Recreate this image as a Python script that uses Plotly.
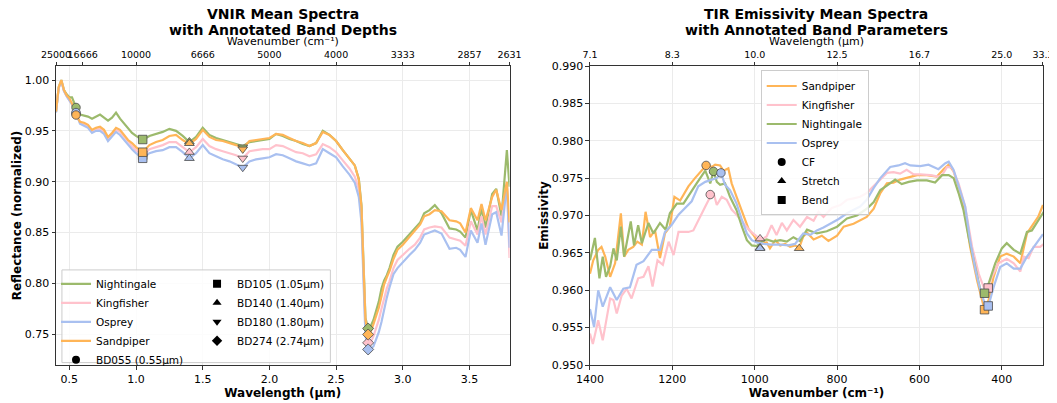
import plotly.graph_objects as go

FONT = "DejaVu Sans"

# ---------------- VNIR data ----------------
wavelength_um = [0.40, 0.42, 0.44, 0.46, 0.48, 0.50, 0.52, 0.55, 0.58, 0.61, 0.64, 0.67, 0.70, 0.73,
                 0.76, 0.79, 0.82, 0.85, 0.88, 0.91, 0.94, 0.97, 1.00, 1.05, 1.10, 1.15, 1.20, 1.25,
                 1.30, 1.35, 1.40, 1.45, 1.50, 1.55, 1.60, 1.65, 1.70, 1.75, 1.80, 1.85, 1.90, 1.95,
                 2.00, 2.05, 2.10, 2.15, 2.20, 2.25, 2.30, 2.35, 2.40, 2.45, 2.50, 2.55, 2.60, 2.64,
                 2.67, 2.69, 2.70, 2.72, 2.74, 2.76, 2.78, 2.80, 2.82, 2.84, 2.86, 2.88, 2.90, 2.93,
                 2.96, 3.00, 3.05, 3.09, 3.13, 3.16, 3.20, 3.24, 3.29, 3.35, 3.40, 3.43, 3.47, 3.51,
                 3.56, 3.59, 3.62, 3.67, 3.70, 3.74, 3.78, 3.80]

vnir_nightingale = [0.969, 0.993, 1.000, 0.990, 0.986, 0.983, 0.983, 0.973, 0.966, 0.965, 0.964, 0.962,
                    0.964, 0.966, 0.963, 0.960, 0.963, 0.968, 0.962, 0.957, 0.952, 0.948, 0.945, 0.941,
                    0.945, 0.947, 0.949, 0.952, 0.950, 0.945, 0.939, 0.944, 0.953, 0.946, 0.943, 0.941,
                    0.939, 0.937, 0.935, 0.939, 0.940, 0.941,
                    0.942, 0.947, 0.945, 0.942, 0.940, 0.937, 0.935, 0.938, 0.950, 0.946, 0.940, 0.931,
                    0.923, 0.916, 0.903, 0.877, 0.840, 0.766, 0.7556, 0.758, 0.764, 0.772, 0.782, 0.795,
                    0.803, 0.808, 0.815, 0.828, 0.836, 0.841, 0.848, 0.854, 0.860, 0.869, 0.872, 0.877,
                    0.869, 0.854, 0.853, 0.851, 0.845, 0.872, 0.852, 0.874, 0.855, 0.888, 0.893, 0.866,
                    0.931, 0.895]
vnir_kingfisher = [0.969, 0.992, 0.999, 0.989, 0.984, 0.980, 0.976, 0.967, 0.958, 0.956, 0.954, 0.949,
                   0.951, 0.952, 0.949, 0.942, 0.946, 0.951, 0.949, 0.944, 0.939, 0.935, 0.931, 0.926,
                   0.932, 0.934, 0.936, 0.939, 0.939, 0.934, 0.929, 0.934, 0.942, 0.935, 0.932, 0.930,
                   0.928, 0.926, 0.923, 0.930, 0.931, 0.932,
                   0.932, 0.936, 0.935, 0.932, 0.929, 0.928, 0.925, 0.927, 0.937, 0.934, 0.929, 0.921,
                   0.913, 0.905, 0.893, 0.868, 0.830, 0.756, 0.7415, 0.742, 0.748, 0.755, 0.764, 0.775,
                   0.786, 0.795, 0.802, 0.815, 0.823, 0.828, 0.834, 0.838, 0.845, 0.853, 0.855, 0.856,
                   0.855, 0.845, 0.843, 0.842, 0.837, 0.861, 0.848, 0.866, 0.848, 0.876, 0.876, 0.860,
                   0.899, 0.825]
vnir_osprey = [0.968, 0.992, 0.999, 0.989, 0.984, 0.980, 0.976, 0.968, 0.957, 0.955, 0.953, 0.948,
               0.950, 0.950, 0.947, 0.940, 0.944, 0.949, 0.946, 0.941, 0.936, 0.932, 0.928, 0.923,
               0.928, 0.930, 0.931, 0.934, 0.934, 0.929, 0.923, 0.928, 0.936, 0.928, 0.925, 0.922,
               0.920, 0.917, 0.914, 0.920, 0.922, 0.923,
               0.924, 0.927, 0.926, 0.923, 0.920, 0.918, 0.916, 0.918, 0.932, 0.928, 0.924, 0.915,
               0.907, 0.899, 0.885, 0.860, 0.822, 0.748, 0.737, 0.736, 0.738, 0.745, 0.752, 0.762,
               0.775, 0.786, 0.796, 0.809, 0.815, 0.821, 0.828, 0.833, 0.840, 0.848, 0.850, 0.852,
               0.849, 0.834, 0.835, 0.833, 0.826, 0.852, 0.840, 0.859, 0.838, 0.868, 0.870, 0.847,
               0.898, 0.835]
vnir_sandpiper = [0.969, 0.993, 1.000, 0.990, 0.985, 0.982, 0.977, 0.966, 0.959, 0.958, 0.956, 0.951,
                  0.953, 0.954, 0.951, 0.944, 0.948, 0.953, 0.951, 0.946, 0.941, 0.938, 0.934, 0.929,
                  0.936, 0.939, 0.941, 0.945, 0.946, 0.941, 0.937, 0.942, 0.951, 0.944, 0.941, 0.940,
                  0.938, 0.936, 0.933, 0.940, 0.941, 0.942,
                  0.943, 0.947, 0.946, 0.943, 0.940, 0.938, 0.935, 0.938, 0.949, 0.946, 0.940, 0.931,
                  0.923, 0.916, 0.902, 0.875, 0.836, 0.764, 0.750, 0.753, 0.760, 0.767, 0.776, 0.787,
                  0.799, 0.806, 0.812, 0.824, 0.833, 0.838, 0.846, 0.852, 0.858, 0.866, 0.868, 0.872,
                  0.871, 0.862, 0.861, 0.859, 0.850, 0.874, 0.862, 0.878, 0.862, 0.885, 0.892, 0.872,
                  0.900, 0.860]

band_names = ["BD055 (0.55µm)", "BD105 (1.05µm)", "BD140 (1.40µm)", "BD180 (1.80µm)", "BD274 (2.74µm)"]
band_wl = [0.55, 1.05, 1.40, 1.80, 2.74]
band_symbols = ["circle", "square", "triangle-up", "triangle-down", "diamond"]
bd_nightingale = [0.973, 0.9415, 0.9393, 0.934, 0.7556]
bd_kingfisher = [0.967, 0.926, 0.929, 0.923, 0.7415]
bd_osprey = [0.968, 0.923, 0.923, 0.914, 0.735]
bd_sandpiper = [0.9656, 0.929, 0.9377, 0.932, 0.7497]

top_wl_ticks = [0.4, 0.6, 1.0, 1.5, 2.0, 2.5, 3.0, 3.5, 3.8]
top_wn_labels = ["25000", "16666", "10000", "6666", "5000", "4000", "3333", "2857", "2631"]

# ---------------- TIR data ----------------
tir_sandpiper_wn = [1400, 1392, 1380, 1372, 1363, 1351, 1339, 1325, 1317, 1307, 1295, 1285, 1274, 1265,
                    1254, 1242, 1230, 1218, 1206, 1195, 1181, 1161, 1145, 1129, 1118, 1104, 1096, 1084,
                    1076, 1064, 1056, 1044, 1027, 1015, 1003, 995, 983, 971, 963, 950, 938, 926, 914,
                    902, 892, 882, 873, 857, 837, 821, 800, 784, 760, 744, 728, 711, 695, 679, 663, 647,
                    631, 606, 582, 558, 541, 529, 517, 501, 489, 477, 460, 448, 442, 432, 420, 404, 388,
                    371, 355, 339, 323, 311, 300]
tir_sandpiper = [0.9622, 0.9640, 0.9654, 0.9658, 0.9645, 0.9618, 0.9636, 0.9703, 0.9645, 0.9654, 0.9658,
                 0.9665, 0.9661, 0.9705, 0.9671, 0.9680, 0.9643, 0.9676, 0.9685, 0.9725, 0.9720, 0.9739,
                 0.9750, 0.9761, 0.9767, 0.9765, 0.9768, 0.9767, 0.9760, 0.9763, 0.9743, 0.9725, 0.9699,
                 0.9682, 0.9674, 0.9667, 0.9662, 0.9664, 0.9656, 0.9667, 0.9660, 0.9662, 0.9658, 0.9660,
                 0.9657, 0.9672, 0.9677, 0.9668, 0.9673, 0.9666, 0.9673, 0.9685, 0.9689, 0.9694, 0.9698,
                 0.9709, 0.9730, 0.9743, 0.9744, 0.9748, 0.9750, 0.9754, 0.9754, 0.9752, 0.9762, 0.9768,
                 0.9759, 0.9732, 0.9703, 0.9658, 0.9613, 0.9587, 0.9574, 0.9587, 0.9618, 0.9645, 0.9649,
                 0.9645, 0.9636, 0.9676, 0.9690, 0.9699, 0.9714]

tir_kingfisher_wn = [1400, 1393, 1380, 1369, 1351, 1343, 1335, 1323, 1311, 1299, 1283, 1270, 1258, 1248,
                     1236, 1223, 1209, 1197, 1185, 1161, 1149, 1137, 1120, 1108, 1100, 1092, 1080, 1068,
                     1056, 1044, 1027, 1011, 995, 983, 971, 959, 947, 934, 922, 906, 890, 873, 857, 845,
                     833, 813, 792, 776, 760, 744, 728, 711, 695, 679, 663, 647, 631, 614, 598, 574, 554,
                     545, 533, 521, 505, 489, 472, 456, 444, 436, 424, 408, 388, 371, 355, 347, 335, 323,
                     307, 298]
tir_kingfisher = [0.9542, 0.9528, 0.9560, 0.9533, 0.9589, 0.9587, 0.9569, 0.9593, 0.9602, 0.9589, 0.9616,
                  0.9618, 0.9632, 0.9605, 0.9640, 0.9634, 0.9665, 0.9647, 0.9678, 0.9678, 0.9680, 0.9694,
                  0.9712, 0.9725, 0.9730, 0.9714, 0.9725, 0.9721, 0.9708, 0.9701, 0.9690, 0.9679, 0.9672,
                  0.9668, 0.9672, 0.9687, 0.9674, 0.9690, 0.9680, 0.9694, 0.9685, 0.9698, 0.9693, 0.9705,
                  0.9698, 0.9710, 0.9714, 0.9721, 0.9723, 0.9725, 0.9730, 0.9739, 0.9748, 0.9757, 0.9758,
                  0.9756, 0.9761, 0.9755, 0.9755, 0.9754, 0.9752, 0.9754, 0.9765, 0.9764, 0.9743, 0.9712,
                  0.9658, 0.9622, 0.9604, 0.9602, 0.9618, 0.9636, 0.9642, 0.9636, 0.9625, 0.9645, 0.9643,
                  0.9658, 0.9658, 0.9662]

tir_nightingale_wn = [1400, 1388, 1377, 1369, 1361, 1351, 1343, 1335, 1325, 1317, 1301, 1293, 1283, 1274,
                      1258, 1246, 1230, 1216, 1206, 1189, 1173, 1157, 1141, 1120, 1108, 1100, 1092, 1084,
                      1072, 1060, 1044, 1031, 1019, 1007, 995, 983, 971, 955, 938, 922, 906, 890, 873, 849,
                      825, 800, 776, 752, 728, 711, 695, 679, 659, 643, 626, 606, 582, 562, 545, 529, 517,
                      505, 493, 481, 464, 452, 442, 432, 416, 400, 388, 371, 355, 339, 327, 311, 298]
tir_nightingale = [0.9640, 0.9670, 0.9616, 0.9645, 0.9618, 0.9632, 0.9656, 0.9640, 0.9685, 0.9645, 0.9692,
                   0.9660, 0.9687, 0.9663, 0.9690, 0.9676, 0.9690, 0.9681, 0.9703, 0.9716, 0.9716, 0.9730,
                   0.9743, 0.9760, 0.9743, 0.9759, 0.9745, 0.9741, 0.9743, 0.9725, 0.9707, 0.9685, 0.9667,
                   0.9660, 0.9659, 0.9665, 0.9668, 0.9665, 0.9667, 0.9665, 0.9671, 0.9666, 0.9681, 0.9676,
                   0.9679, 0.9685, 0.9696, 0.9700, 0.9709, 0.9718, 0.9734, 0.9740, 0.9748, 0.9742, 0.9745,
                   0.9747, 0.9747, 0.9744, 0.9754, 0.9754, 0.9750, 0.9730, 0.9707, 0.9672, 0.9631, 0.9600,
                   0.9596, 0.9609, 0.9636, 0.9656, 0.9663, 0.9654, 0.9649, 0.9678, 0.9680, 0.9694, 0.9705]

tir_osprey_wn = [1400, 1390, 1380, 1369, 1351, 1335, 1319, 1303, 1287, 1270, 1250, 1230, 1218, 1201,
                 1185, 1169, 1153, 1137, 1120, 1104, 1092, 1082, 1072, 1060, 1044, 1031, 1019, 1007, 995,
                 979, 959, 938, 918, 902, 882, 865, 849, 833, 817, 797, 776, 760, 744, 728, 711, 695, 671,
                 651, 635, 622, 598, 578, 554, 537, 529, 517, 501, 489, 477, 464, 452, 440, 432, 420, 404,
                 388, 371, 355, 339, 323, 311, 300]
tir_osprey = [0.9575, 0.9551, 0.9600, 0.9578, 0.9604, 0.9587, 0.9602, 0.9604, 0.9634, 0.9639, 0.9654,
              0.9654, 0.9678, 0.9688, 0.9701, 0.9710, 0.9719, 0.9739, 0.9745, 0.9748, 0.9750, 0.9757,
              0.9741, 0.9734, 0.9716, 0.9694, 0.9676, 0.9667, 0.9664, 0.9662, 0.9661, 0.9661, 0.9660,
              0.9662, 0.9676, 0.9674, 0.9680, 0.9684, 0.9689, 0.9695, 0.9703, 0.9707, 0.9712, 0.9721,
              0.9737, 0.9750, 0.9765, 0.9767, 0.9770, 0.9767, 0.9766, 0.9768, 0.9762, 0.9770, 0.9772,
              0.9761, 0.9734, 0.9712, 0.9667, 0.9627, 0.9600, 0.9580, 0.9580, 0.9604, 0.9631, 0.9636,
              0.9629, 0.9629, 0.9645, 0.9658, 0.9667, 0.9675]

# band parameters: (wavenumber, emissivity) for CF, Stretch, Bend
param_names = ["CF", "Stretch", "Bend"]
param_symbols = ["circle", "triangle-up", "square"]
par_sandpiper_wn = [1118, 892, 442]
par_sandpiper = [0.9767, 0.9656, 0.9574]
par_kingfisher_wn = [1108, 987, 433]
par_kingfisher = [0.9728, 0.9669, 0.9603]
par_nightingale_wn = [1100, 987, 442]
par_nightingale = [0.9759, 0.9657, 0.9596]
par_osprey_wn = [1082, 987, 433]
par_osprey = [0.9757, 0.9656, 0.9579]

top_wn_ticks = [1400, 1200, 1000, 800, 600, 400, 300]
top_wl_labels = ["7.1", "8.3", "10.0", "12.5", "16.7", "25.0", "33.3"]

COLORS = {
    "Nightingale": "#9cba6c",
    "Kingfisher": "#ffc2cc",
    "Osprey": "#a9c0f0",
    "Sandpiper": "#ffb557",
}
EDGE = "#4a4a4a"

fig = go.Figure()

# ---- left: lines ----
vnir = [("Nightingale", vnir_nightingale, bd_nightingale),
        ("Kingfisher", vnir_kingfisher, bd_kingfisher),
        ("Osprey", vnir_osprey, bd_osprey),
        ("Sandpiper", vnir_sandpiper, bd_sandpiper)]
for name, vals, _ in vnir:
    fig.add_trace(go.Scatter(x=wavelength_um, y=vals, mode="lines", name=name,
                             line=dict(color=COLORS[name], width=2.2),
                             xaxis="x", yaxis="y", legend="legend"))
for name, _, bd in vnir:
    fig.add_trace(go.Scatter(x=band_wl, y=bd, mode="markers", showlegend=False,
                             marker=dict(color=COLORS[name], size=8.5, symbol=band_symbols,
                                         line=dict(color=EDGE, width=0.8)),
                             xaxis="x", yaxis="y"))
for i, (bn, sym) in enumerate(zip(band_names, band_symbols)):
    fig.add_trace(go.Scatter(x=[None], y=[None], mode="markers", name=bn,
                             marker=dict(color="black", size=8, symbol=sym),
                             xaxis="x", yaxis="y",
                             legend="legend" if i == 0 else "legend2"))
fig.add_trace(go.Scatter(x=[0.4, 3.8], y=[None, None], mode="lines", showlegend=False,
                         hoverinfo="skip", xaxis="x3", yaxis="y"))

# ---- right: lines ----
tir = [("Sandpiper", tir_sandpiper_wn, tir_sandpiper, par_sandpiper_wn, par_sandpiper),
       ("Kingfisher", tir_kingfisher_wn, tir_kingfisher, par_kingfisher_wn, par_kingfisher),
       ("Nightingale", tir_nightingale_wn, tir_nightingale, par_nightingale_wn, par_nightingale),
       ("Osprey", tir_osprey_wn, tir_osprey, par_osprey_wn, par_osprey)]
for name, wn, vals, _, _ in tir:
    fig.add_trace(go.Scatter(x=wn, y=vals, mode="lines", name=name,
                             line=dict(color=COLORS[name], width=2.2),
                             xaxis="x2", yaxis="y2", legend="legend3"))
for name, _, _, pwn, pv in tir:
    fig.add_trace(go.Scatter(x=pwn, y=pv, mode="markers", showlegend=False,
                             marker=dict(color=COLORS[name], size=8.5, symbol=param_symbols,
                                         line=dict(color=EDGE, width=0.8)),
                             xaxis="x2", yaxis="y2"))
for pn, sym in zip(param_names, param_symbols):
    fig.add_trace(go.Scatter(x=[None], y=[None], mode="markers", name=pn,
                             marker=dict(color="black", size=8, symbol=sym),
                             xaxis="x2", yaxis="y2", legend="legend3"))
fig.add_trace(go.Scatter(x=[1400, 300], y=[None, None], mode="lines", showlegend=False,
                         hoverinfo="skip", xaxis="x4", yaxis="y2"))

AX = dict(showline=True, linecolor="#333333", linewidth=1, ticks="outside", ticklen=3.5,
          tickcolor="#333333", tickwidth=1, showgrid=True, gridcolor="#ebebeb", gridwidth=0.8,
          zeroline=False, tickfont=dict(family=FONT, size=11, color="black"))
TITLEF = dict(family=FONT, size=12, color="black", weight="bold")
TOPTICK = dict(family=FONT, size=9.5, color="black")
TOPTITLE = dict(family=FONT, size=11, color="black")


def title_line(text, x, y):
    return dict(text="<b>%s</b>" % text, xref="paper", yref="paper", x=x, y=y,
                xanchor="center", yanchor="middle", showarrow=False,
                font=dict(family=FONT, size=14, color="black"))


# page body has an 8px margin: figure is drawn from (8, 8)
fig.update_layout(
    width=1049, height=395,
    margin=dict(l=48, r=14, t=58, b=38, autoexpand=False),
    paper_bgcolor="white", plot_bgcolor="white",
    font=dict(family=FONT, color="black"),
    showlegend=True,
    xaxis=dict(AX, domain=[0, 0.4595], anchor="y", range=[0.4, 3.8],
               tickvals=[0.5, 1.0, 1.5, 2.0, 2.5, 3.0, 3.5],
               ticktext=["0.5", "1.0", "1.5", "2.0", "2.5", "3.0", "3.5"],
               title=dict(text="Wavelength (µm)", font=TITLEF, standoff=2)),
    yaxis=dict(AX, domain=[0, 1], anchor="x", range=[0.7197, 1.0138], mirror=True,
               tickvals=[0.75, 0.80, 0.85, 0.90, 0.95, 1.00],
               ticktext=["0.75", "0.80", "0.85", "0.90", "0.95", "1.00"],
               title=dict(text="Reflectance (normalized)", font=TITLEF, standoff=0)),
    xaxis3=dict(AX, overlaying="x", side="top", anchor="y", range=[0.4, 3.8], showgrid=False,
                tickvals=top_wl_ticks, ticktext=top_wn_labels, tickangle=0, tickfont=TOPTICK,
                title=dict(text="Wavenumber (cm⁻¹)", font=TOPTITLE, standoff=0)),
    xaxis2=dict(AX, domain=[0.541, 1], anchor="y2", range=[1400, 300],
                tickvals=[1400, 1200, 1000, 800, 600, 400],
                title=dict(text="Wavenumber (cm⁻¹)", font=TITLEF, standoff=2)),
    yaxis2=dict(AX, domain=[0, 1], anchor="x2", range=[0.95, 0.99], mirror=True,
                tickvals=[0.95, 0.955, 0.96, 0.965, 0.97, 0.975, 0.98, 0.985, 0.99],
                ticktext=["0.950", "0.955", "0.960", "0.965", "0.970", "0.975", "0.980", "0.985", "0.990"],
                title=dict(text="Emissivity", font=TITLEF, standoff=0)),
    xaxis4=dict(AX, overlaying="x2", side="top", anchor="y2", range=[1400, 300], showgrid=False,
                tickvals=top_wn_ticks, ticktext=top_wl_labels, tickangle=0, tickfont=TOPTICK,
                title=dict(text="Wavelength (µm)", font=TOPTITLE, standoff=0)),
    legend=dict(x=0.0, y=0.32, xanchor="left", yanchor="top", bgcolor="rgba(0,0,0,0)",
                font=dict(family=FONT, size=10.5, color="black"), traceorder="normal"),
    legend2=dict(x=0.1429, y=0.32, xanchor="left", yanchor="top", bgcolor="rgba(0,0,0,0)",
                 font=dict(family=FONT, size=10.5, color="black"), traceorder="normal"),
    legend3=dict(x=0.714, y=0.985, xanchor="left", yanchor="top", bgcolor="rgba(255,255,255,0.85)",
                 bordercolor="#cccccc", borderwidth=1,
                 font=dict(family=FONT, size=10.5, color="black"), traceorder="normal"),
    shapes=[dict(type="rect", xref="paper", yref="paper", x0=0.006, x1=0.278, y0=0.008, y1=0.318,
                 fillcolor="rgba(255,255,255,0.85)", line=dict(color="#cccccc", width=1), layer="above")],
    annotations=[
        title_line("VNIR Mean Spectra", 0.2297, 1.175),
        title_line("with Annotated Band Depths", 0.2297, 1.1205),
        title_line("TIR Emissivity Mean Spectra", 0.7705, 1.175),
        title_line("with Annotated Band Parameters", 0.7705, 1.1205),
    ],
)

fig.write_html("out.html")
